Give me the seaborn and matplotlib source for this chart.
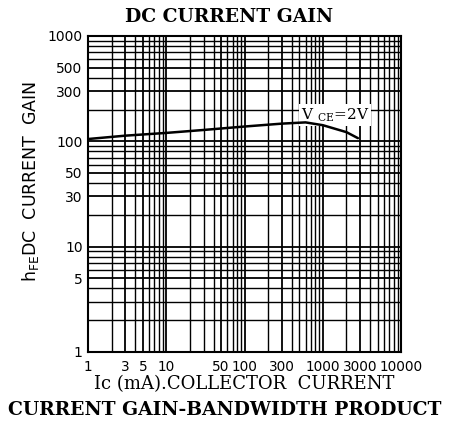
import numpy as np
import pandas as pd
import seaborn as sns
import matplotlib.pyplot as plt
from matplotlib.ticker import LogLocator, FixedLocator, NullFormatter

# values
ic_ma = [1, 3, 10, 30, 100, 300, 600, 1000, 2000, 2800]
hfe = [105, 113, 120, 128, 138, 147, 151, 142, 122, 107]

x_ticks = [1, 3, 5, 10, 50, 100, 300, 1000, 3000, 10000]
x_tick_labels = ['1', '3', '5', '10', '50', '100', '300', '1000', '3000', '10000']
y_ticks = [1, 5, 10, 30, 50, 100, 300, 500, 1000]
y_tick_labels = ['1', '5', '10', '30', '50', '100', '300', '500', '1000']

sns.set_style('white')
plt.rcParams['font.family'] = ['DejaVu Sans']
plt.rcParams.update({'text.color': 'black', 'axes.labelcolor': 'black',
                     'xtick.color': 'black', 'ytick.color': 'black'})

fig = plt.figure(figsize=(4.59, 4.28), dpi=100)
ax = fig.add_axes([0.192, 0.178, 0.682, 0.738])

df = pd.DataFrame({'ic': ic_ma, 'hfe': hfe})
sns.lineplot(data=df, x='ic', y='hfe', ax=ax, color='black', linewidth=1.8, zorder=3)

ax.set_xscale('log')
ax.set_yscale('log')
ax.set_xlim(1, 10000)
ax.set_ylim(1, 1000)

ax.xaxis.set_major_locator(FixedLocator(x_ticks))
ax.set_xticklabels(x_tick_labels, fontsize=9.8)
ax.yaxis.set_major_locator(FixedLocator(y_ticks))
ax.set_yticklabels(y_tick_labels, fontsize=10)
ax.xaxis.set_minor_locator(LogLocator(base=10, subs=np.arange(2, 10)))
ax.yaxis.set_minor_locator(LogLocator(base=10, subs=np.arange(2, 10)))
ax.xaxis.set_minor_formatter(NullFormatter())
ax.yaxis.set_minor_formatter(NullFormatter())

ax.grid(which='major', color='black', linewidth=1.3)
ax.grid(which='minor', color='black', linewidth=1.0)
ax.tick_params(which='both', length=0)
ax.tick_params(axis='x', pad=6)
ax.tick_params(axis='y', pad=4)
for s in ax.spines.values():
    s.set_color('black')
    s.set_linewidth(1.5)

ax.text(520, 177, r'V $_{\mathregular{CE}}$=2V', fontsize=11, va='center', ha='left',
        family='DejaVu Serif',
        bbox=dict(facecolor='white', edgecolor='none', pad=1.5), zorder=2.5)

ax.set_xlabel('Ic (mA).COLLECTOR  CURRENT', family='DejaVu Serif', fontsize=13)
ax.xaxis.set_label_coords(0.5, -0.075)
ax.set_ylabel(r'h$_{\mathregular{FE}}$DC  CURRENT  GAIN', fontsize=12.5)
ax.yaxis.set_label_coords(-0.15, 0.54)

fig.text(0.50, 0.96, 'DC CURRENT GAIN', ha='center', va='center',
         family='DejaVu Serif', fontweight='bold', fontsize=13.5)
fig.text(0.49, 0.042, 'CURRENT GAIN-BANDWIDTH PRODUCT', ha='center', va='center',
         family='DejaVu Serif', fontweight='bold', fontsize=13.5)

fig.savefig('out.png', dpi=100)
